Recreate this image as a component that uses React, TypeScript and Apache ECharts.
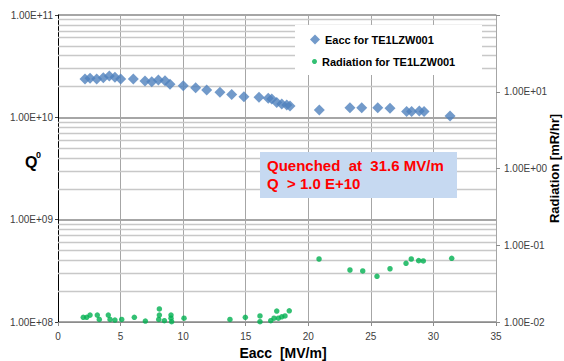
import React, { useEffect, useRef } from "react";
import * as echarts from "echarts";

// Eacc [MV/m] and Q0 for the cavity test
const eaccE = [2.16, 2.56, 3.09, 3.62, 4.10, 4.55, 5.01, 6.02, 6.95, 7.49, 8.02, 8.55, 8.95, 10.01, 11.0, 11.88, 12.94, 13.88, 14.86, 16.06, 16.80, 17.08, 17.48, 17.88, 18.28, 18.54, 20.88, 23.33, 24.27, 25.55, 26.53, 27.86, 28.26, 28.87, 29.25, 31.33];
const eaccQ0 = [2.37e10, 2.41e10, 2.37e10, 2.44e10, 2.53e10, 2.46e10, 2.37e10, 2.37e10, 2.26e10, 2.23e10, 2.32e10, 2.28e10, 2.10e10, 2.04e10, 1.95e10, 1.85e10, 1.76e10, 1.67e10, 1.59e10, 1.57e10, 1.54e10, 1.51e10, 1.40e10, 1.35e10, 1.32e10, 1.29e10, 1.18e10, 1.24e10, 1.24e10, 1.24e10, 1.23e10, 1.14e10, 1.14e10, 1.15e10, 1.14e10, 1.03e10];

// Radiation [mR/hr]
const radE = [2.02, 2.29, 2.56, 3.14, 3.30, 4.02, 4.16, 4.55, 5.09, 6.10, 6.98, 8.10, 8.10, 8.05, 8.50, 9.03, 9.03, 9.08, 10.07, 13.74, 14.97, 16.14, 16.14, 17.0, 17.26, 17.48, 17.61, 17.88, 18.14, 18.48, 20.86, 23.33, 24.35, 25.49, 26.53, 27.81, 28.23, 28.82, 29.19, 31.46];
const radR = [0.0115, 0.0115, 0.0123, 0.0123, 0.0108, 0.0123, 0.0108, 0.0106, 0.0108, 0.0115, 0.0103, 0.0148, 0.0123, 0.0108, 0.0104, 0.0123, 0.0112, 0.0101, 0.0112, 0.0108, 0.0115, 0.0120, 0.0101, 0.0104, 0.0112, 0.0139, 0.0112, 0.0117, 0.0120, 0.0140, 0.0662, 0.0476, 0.0462, 0.0394, 0.0494, 0.0582, 0.0662, 0.0630, 0.0625, 0.0676];

const seriesNames = ["Eacc for TE1LZW001", "Radiation for TE1LZW001"];
const noteLines = ["Quenched  at  31.6 MV/m", "Q  > 1.0 E+10"];
const xTitle = "Eacc  [MV/m]";
const rightTitle = "Radiation [mR/hr]";

const FONT = "'Liberation Sans', Arial, sans-serif";

function sci(v: number): string {
  const e = Math.round(Math.log10(v));
  const m = v / Math.pow(10, e);
  const sign = e < 0 ? "-" : "+";
  return m.toFixed(2) + "E" + sign + String(Math.abs(e)).padStart(2, "0");
}

// minor log gridlines for the Q0 axis (2..9 within each decade)
const minorQ: number[] = [];
for (const dec of [1e8, 1e9, 1e10]) {
  for (let k = 2; k <= 9; k++) minorQ.push(k * dec);
}

export default function App() {
  const ref = useRef<HTMLDivElement>(null);
  useEffect(() => {
    if (!ref.current) return;
    const chart = echarts.init(ref.current, null, { renderer: "svg" });
    const option: any = {
      animation: false,
      backgroundColor: "#ffffff",
      grid: { left: 58, top: 15, right: 68, bottom: 39, show: false, containLabel: false, outerBoundsMode: "none" },
      legend: [
        {
          data: [seriesNames[0]],
          orient: "vertical",
          left: 310,
          top: 34,
          padding: 0,
          itemWidth: 10,
          itemHeight: 10,
          itemGap: 0,
          z: 20,
          textStyle: { fontFamily: FONT, fontSize: 11, fontWeight: "bold", color: "#000" },
        },
        {
          data: [seriesNames[1]],
          orient: "vertical",
          left: 312,
          top: 56,
          padding: 0,
          itemWidth: 5,
          itemHeight: 5,
          itemGap: 0,
          z: 20,
          textStyle: { fontFamily: FONT, fontSize: 11, fontWeight: "bold", color: "#000" },
        },
      ],
      xAxis: {
        type: "value",
        min: 0,
        max: 35,
        interval: 5,
        name: xTitle,
        nameLocation: "middle",
        nameGap: 24,
        nameMoveOverlap: false,
        nameTextStyle: { fontFamily: FONT, fontSize: 14, fontWeight: "bold", color: "#000", padding: [0, 0, 0, 12] },
        axisLine: { show: true, onZero: false, lineStyle: { color: "#8c8c8c", width: 1 } },
        axisTick: { show: true, length: 4, inside: false, lineStyle: { color: "#8c8c8c" } },
        axisLabel: { margin: 9, fontFamily: FONT, fontSize: 10, color: "#404040" },
        splitLine: { show: true, lineStyle: { color: "#a6a6a6", width: 1 } },
      },
      yAxis: [
        {
          type: "log",
          logBase: 10,
          min: 1e8,
          max: 1e11,
          position: "left",
          axisLine: { show: true, lineStyle: { color: "#000", width: 1 } },
          axisTick: { show: true, length: 3, lineStyle: { color: "#404040" } },
          axisLabel: { margin: 5, fontFamily: FONT, fontSize: 10, color: "#404040", formatter: (v: number) => sci(v) },
          splitLine: { show: true, lineStyle: { color: "#a6a6a6", width: 2 } },
        },
        {
          type: "log",
          logBase: 10,
          min: 0.01,
          max: 100,
          position: "right",
          name: rightTitle,
          nameLocation: "middle",
          nameRotate: 90,
          nameGap: 52,
          nameMoveOverlap: false,
          nameTextStyle: { fontFamily: FONT, fontSize: 13, fontWeight: "bold", color: "#000" },
          axisLine: { show: true, lineStyle: { color: "#a6a6a6", width: 1 } },
          axisTick: { show: true, length: 4, lineStyle: { color: "#8c8c8c" } },
          axisLabel: {
            margin: 8,
            fontFamily: FONT,
            fontSize: 10,
            color: "#404040",
            formatter: (v: number) => (Math.round(Math.log10(v)) >= 2 ? "" : sci(v)),
          },
          splitLine: { show: false },
        },
      ],
      graphic: [
        { type: "rect", z: 10, shape: { x: 295, y: 25, width: 187, height: 50 }, style: { fill: "#ffffff" } },
        { type: "rect", z: 10, shape: { x: 260, y: 152, width: 197, height: 46 }, style: { fill: "#c6d9f1" } },
        {
          type: "text", z: 11, x: 267, y: 165,
          style: { text: noteLines[0], fill: "#ff0000", font: `bold 15px ${FONT}`, textVerticalAlign: "middle" },
        },
        {
          type: "text", z: 11, x: 267, y: 183,
          style: { text: noteLines[1], fill: "#ff0000", font: `bold 15px ${FONT}`, textVerticalAlign: "middle" },
        },
        {
          type: "text", z: 11, x: 25, y: 162,
          style: { text: "Q", fill: "#000", font: `bold 16px ${FONT}`, textVerticalAlign: "middle" },
        },
        {
          type: "text", z: 11, x: 36, y: 155,
          style: { text: "0", fill: "#000", font: `bold 9px ${FONT}`, textVerticalAlign: "middle" },
        },
      ],
      series: [
        {
          name: seriesNames[0],
          type: "scatter",
          xAxisIndex: 0,
          yAxisIndex: 0,
          symbol: "diamond",
          symbolSize: 11,
          itemStyle: { color: "#4f81bd" },
          z: 3,
          data: eaccE.map((e, i) => [e, eaccQ0[i]]),
          markLine: {
            silent: true,
            z: 1,
            symbol: ["none", "none"],
            label: { show: false },
            lineStyle: { color: "#c8c8c8", width: 1.3, type: "solid" },
            data: minorQ.map((v) => ({ yAxis: v })),
          },
        },
        {
          name: seriesNames[1],
          type: "scatter",
          xAxisIndex: 0,
          yAxisIndex: 1,
          symbol: "circle",
          symbolSize: 5.5,
          itemStyle: { color: "#00b050" },
          z: 3,
          data: radE.map((e, i) => [e, radR[i]]),
        },
      ],
    };
    chart.setOption(option);
    return () => chart.dispose();
  }, []);
  return <div ref={ref} style={{ position: "fixed", left: 0, top: 0, width: 564, height: 361 }} />;
}
